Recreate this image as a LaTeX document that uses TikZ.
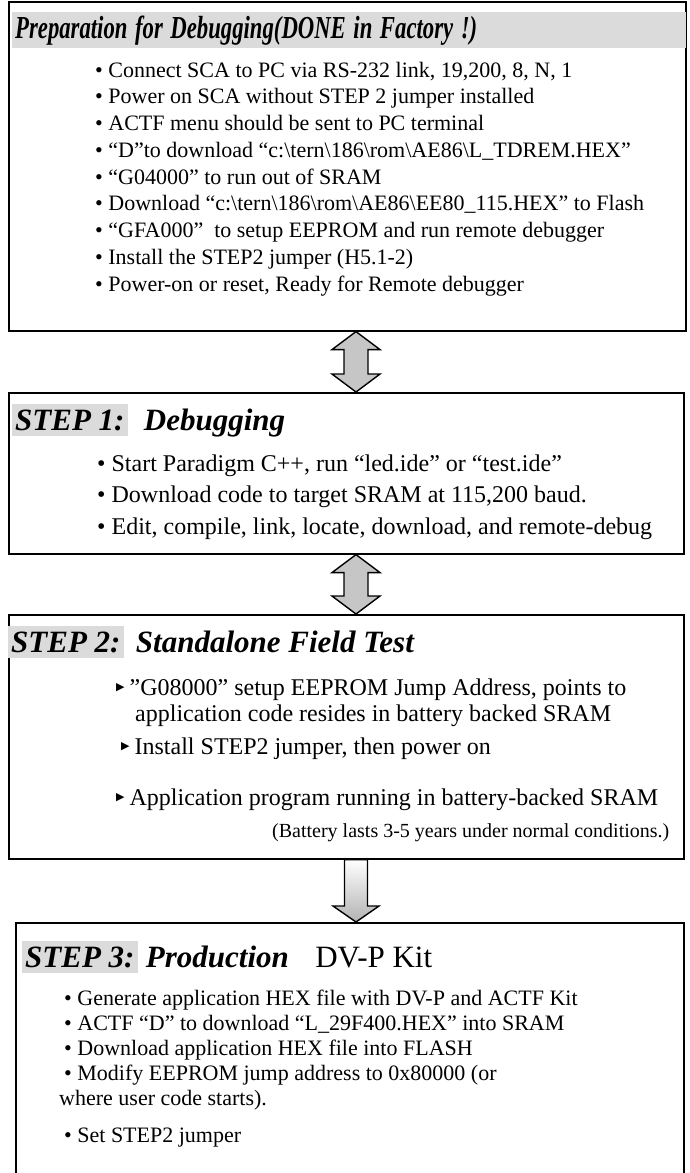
\documentclass[tikz,border=0pt]{standalone}
\usepackage{fontspec}
\setmainfont{Liberation Serif}
\newfontfamily\symfont{DejaVu Sans}
\usetikzlibrary{calc,positioning}

\definecolor{bargray}{gray}{0.86}

\tikzset{
  panel/.style={draw=black, line width=1.6pt, anchor=north west, inner sep=0pt},
  item/.style={anchor=west, inner sep=0pt, text height=15pt, text depth=5pt,
    font=\fontsize{22}{26}\selectfont},
  bigitem/.style={item, font=\fontsize{24}{28}\selectfont},
  steplbl/.style={fill=bargray, anchor=west, inner xsep=3pt, inner ysep=6pt,
    font=\fontsize{31}{36}\selectfont\bfseries\itshape},
  steptxt/.style={anchor=base west, inner sep=0pt,
    font=\fontsize{31}{36}\selectfont\bfseries\itshape},
  bigarrow/.style={draw=black, line width=1.4pt, top color=gray!45,
    middle color=white, bottom color=gray!45},
  downarrow/.style={draw=black, line width=1.4pt, top color=white,
    bottom color=gray!60}
}

\newcommand{\tri}{{\symfont\fontsize{11}{11}\selectfont\raisebox{5pt}{▶}}}

\begin{document}
\begin{tikzpicture}[x=1pt,y=-1pt]
  \useasboundingbox (0,0) rectangle (690,1173);

  % the four panels
  \node[panel, minimum width=677pt, minimum height=329pt] (prep) at (8,1) {};
  \node[panel, minimum width=675pt, minimum height=161pt] (step1) at (8,392) {};
  \node[panel, minimum width=675pt, minimum height=244pt] (step2) at (8,614) {};
  \node[panel, minimum width=668pt, minimum height=300pt] (step3) at (15,922) {};

  % preparation
  \node[anchor=north west, fill=bargray, minimum height=36pt, inner xsep=3pt,
    text width=668pt, align=left, font=\fontsize{32}{36}\selectfont\bfseries\itshape]
    (preptitle) at (12,12) {\scalebox{0.71}[1]{Preparation for Debugging(DONE in Factory !)}};
  \foreach \txt [count=\i] in {
    {Connect SCA to PC via RS-232 link, 19,200, 8, N, 1},
    {Power on SCA without STEP 2 jumper installed},
    {ACTF menu should be sent to PC terminal},
    {“D”to download “c:\textbackslash tern\textbackslash 186\textbackslash rom\textbackslash AE86\textbackslash L\_TDREM.HEX”},
    {“G04000” to run out of SRAM},
    {Download “c:\textbackslash tern\textbackslash 186\textbackslash rom\textbackslash AE86\textbackslash EE80\_115.HEX” to Flash},
    {“GFA000”\ \ to setup EEPROM and run remote debugger},
    {Install the STEP2 jumper (H5.1-2)},
    {Power-on or reset, Ready for Remote debugger}}
    \node[item] (prep\i) at (95,45.25+26.75*\i) {• \txt};

  % step 1
  \node[steplbl] (s1lbl) at (12,420) {STEP 1:};
  \node[steptxt] (s1txt) at ($(s1lbl.base east)+(16,0)$) {Debugging};
  \foreach \txt [count=\i] in {
    {Start Paradigm C++, run “led.ide” or “test.ide”},
    {Download code to target SRAM at 115,200 baud.},
    {Edit, compile, link, locate, download, and remote-debug}}
    \node[bigitem] (s1item\i) at (97,434.5+31.5*\i) {• \txt};

  % step 2
  \node[steplbl] (s2lbl) at (8,642) {STEP 2:};
  \node[steptxt] (s2txt) at ($(s2lbl.base east)+(12,0)$) {Standalone Field Test};
  \node[bigitem] (s2item1) at (116,690) {\tri\hspace{5pt}”G08000” setup EEPROM Jump Address, points to};
  \node[bigitem] (s2item1b) at (135,716) {application code resides in battery backed SRAM};
  \node[bigitem] (s2item2) at (121,749) {\tri\hspace{5pt}Install STEP2 jumper, then power on};
  \node[bigitem] (s2item3) at (116,800) {\tri\hspace{5pt}Application program running in battery-backed SRAM};
  \node[item, font=\fontsize{20}{24}\selectfont] (s2note) at (272,832)
    {(Battery lasts 3-5 years under normal conditions.)};

  % step 3
  \node[steplbl] (s3lbl) at (22,957) {STEP 3:};
  \node[steptxt] (s3txt) at ($(s3lbl.base east)+(8,0)$) {Production};
  \node[steptxt, font=\fontsize{31}{36}\selectfont] (s3kit) at ($(s3txt.base east)+(26,0)$) {DV-P Kit};
  \node[item] (s3item1) at (64,1000) {• Generate application HEX file with DV-P and ACTF Kit};
  \node[item] (s3item2) at (64,1025) {• ACTF “D” to download “L\_29F400.HEX” into SRAM};
  \node[item] (s3item3) at (64,1050) {• Download application HEX file into FLASH};
  \node[item] (s3item4) at (64,1075) {• Modify EEPROM jump address to 0x80000 (or};
  \node[item] (s3item4b) at (59,1100) {where user code starts).};
  \node[item] (s3item5) at (64,1137) {• Set STEP2 jumper};

  % block arrows between the panels
  \coordinate (ax) at (356,0);
  \shadedraw[bigarrow] (prep.south -| ax) -- ++(24,18) -- ++(-12,0)
    -- ($(step1.north -| ax)+(12,-18)$) -- ++(12,0) -- (step1.north -| ax)
    -- ++(-24,-18) -- ++(12,0) -- ($(prep.south -| ax)+(-12,18)$) -- ++(-12,0) -- cycle;
  \shadedraw[bigarrow] (step1.south -| ax) -- ++(24,18) -- ++(-12,0)
    -- ($(step2.north -| ax)+(12,-18)$) -- ++(12,0) -- (step2.north -| ax)
    -- ++(-24,-18) -- ++(12,0) -- ($(step1.south -| ax)+(-12,18)$) -- ++(-12,0) -- cycle;
  \shadedraw[downarrow] ($(step2.south -| ax)+(-11.5,0)$) -- ($(step3.north -| ax)+(-11.5,-16)$)
    -- ++(-11.5,0) -- (step3.north -| ax) -- ++(23,-16) -- ++(-11.5,0)
    -- ($(step2.south -| ax)+(11.5,0)$) -- cycle;
\end{tikzpicture}
\end{document}
